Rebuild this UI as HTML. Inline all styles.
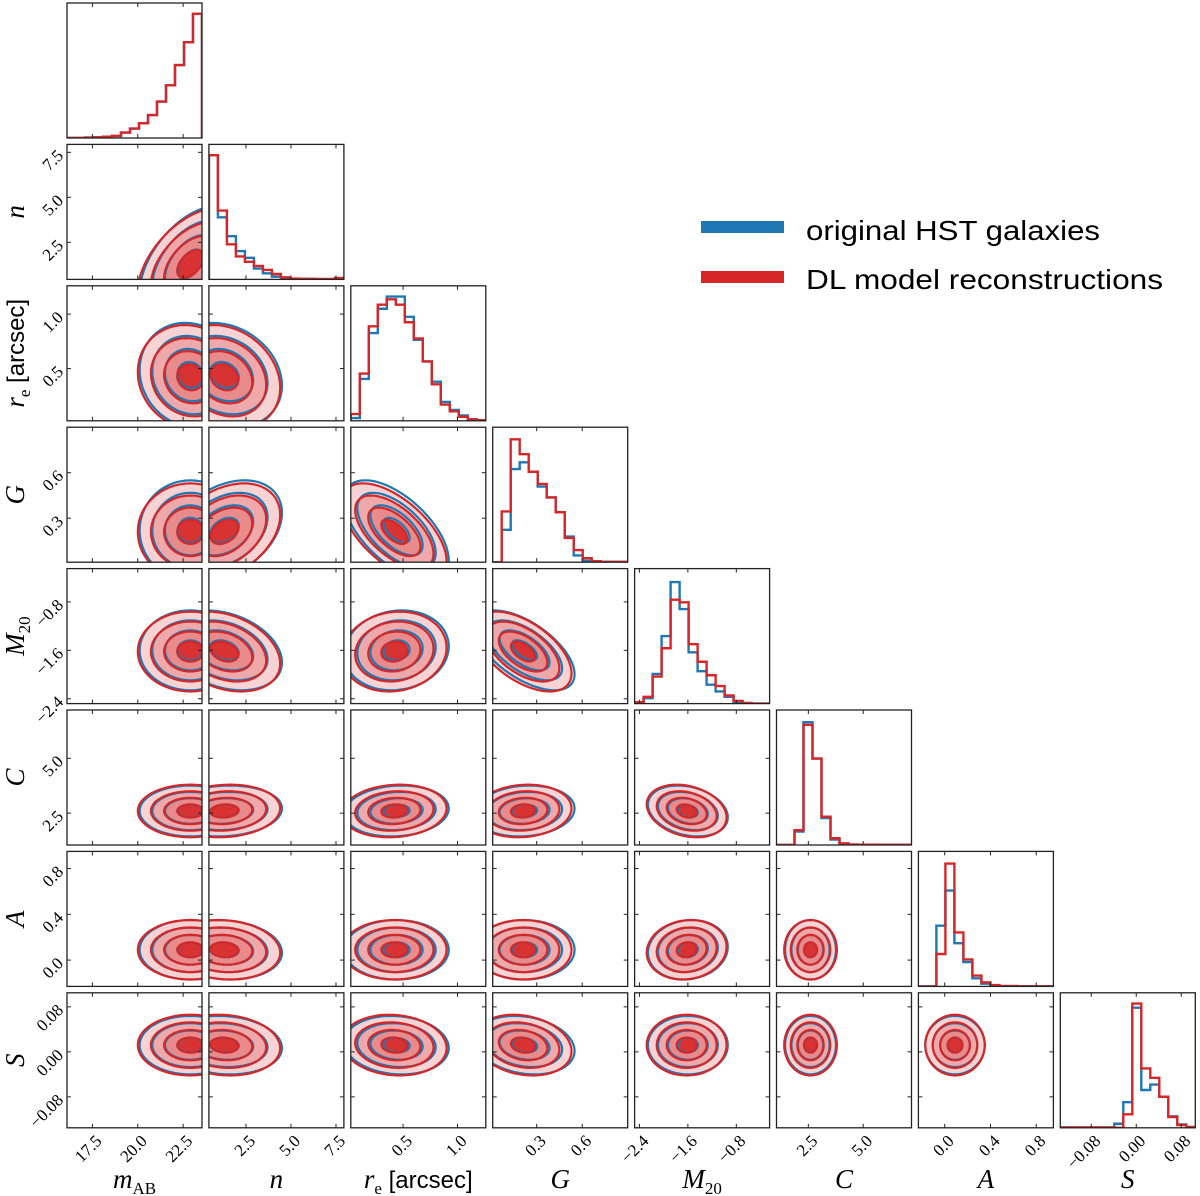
<!DOCTYPE html>
<html><head><meta charset="utf-8"><style>
html,body{margin:0;padding:0;background:#fff;}
svg{display:block;}
.tk{font-family:"Liberation Serif","DejaVu Serif",serif;font-size:17px;fill:#000;}
.al{font-family:"Liberation Serif","DejaVu Serif",serif;font-size:27px;font-style:italic;fill:#000;}
.lg{font-family:"Liberation Sans","DejaVu Sans",sans-serif;font-size:28px;fill:#000;}
</style></head><body>
<svg id="fig" width="1200" height="1196" viewBox="0 0 1200 1196" xmlns="http://www.w3.org/2000/svg"></svg>
<script>
const varNames = ['mAB','n','re','G','M20','C','A','S'];
const axisLo = [16.1, 0.44, 0.02, 0.01, -2.48, 1.05, -0.23, -0.135];
const axisHi = [23.54, 7.94, 1.26, 0.90, -0.25, 7.2, 0.95, 0.105];
const tickVals = [[17.5,20,22.5],[2.5,5,7.5],[0.5,1.0],[0.3,0.6],[-2.4,-1.6,-0.8],[2.5,5.0],[0,0.4,0.8],[-0.08,0,0.08]];
const tickLabels = [['17.5','20.0','22.5'],['2.5','5.0','7.5'],['0.5','1.0'],['0.3','0.6'],['\u22122.4','\u22121.6','\u22120.8'],['2.5','5.0'],['0.0','0.4','0.8'],['\u22120.08','0.00','0.08']];
const histBlue = [
 [0,0,0.003,0.005,0.01,0.015,0.04,0.07,0.11,0.17,0.27,0.39,0.54,0.71,0.92],
 [0.92,0.46,0.32,0.21,0.16,0.08,0.045,0.02,0.01,0.005,0.004,0.003,0.002,0.002,0.01],
 [0.02,0.31,0.65,0.83,0.92,0.92,0.77,0.60,0.44,0.29,0.14,0.08,0.04,0.012,0.004],
 [0,0.24,0.69,0.74,0.67,0.56,0.48,0.37,0.19,0.05,0.01,0.005,0.003,0.002,0.002],
 [0.005,0.04,0.22,0.50,0.90,0.70,0.38,0.24,0.14,0.09,0.05,0.01,0.003,0,0],
 [0,0,0.10,0.91,0.64,0.20,0.04,0.01,0.003,0.002,0.002,0.002,0.001,0.001,0.001],
 [0,0,0.45,0.71,0.32,0.18,0.06,0.02,0.005,0.002,0.002,0.001,0.001,0.001,0.001],
 [0.003,0.003,0.003,0.003,0.003,0.003,0.03,0.19,0.89,0.28,0.32,0.23,0.085,0.025,0.005]
];
const histRed = [
 [0,0,0.003,0.005,0.01,0.015,0.04,0.07,0.11,0.17,0.27,0.39,0.54,0.71,0.92],
 [0.92,0.51,0.26,0.17,0.13,0.10,0.07,0.04,0.015,0.006,0.004,0.003,0.002,0.002,0.01],
 [0.05,0.35,0.70,0.86,0.90,0.86,0.73,0.61,0.44,0.27,0.12,0.07,0.03,0.01,0.004],
 [0,0.376,0.91,0.80,0.67,0.58,0.48,0.37,0.18,0.09,0.03,0.007,0.003,0.003,0.003],
 [0.01,0.05,0.20,0.41,0.77,0.75,0.44,0.31,0.21,0.13,0.06,0.02,0.005,0,0],
 [0,0,0.11,0.89,0.64,0.21,0.05,0.012,0.003,0.002,0.002,0.002,0.001,0.001,0.001],
 [0,0,0.24,0.91,0.40,0.20,0.08,0.03,0.01,0.002,0.002,0.001,0.001,0.001,0.001],
 [0.003,0.003,0.003,0.003,0.003,0.003,0,0.10,0.92,0.44,0.37,0.23,0.08,0.02,0.005]
];
const modeBlue = [22.9, 1.3, 0.44, 0.22, -1.60, 2.6, 0.09, 0.012];
const modeRed  = [22.9, 1.3, 0.42, 0.21, -1.62, 2.6, 0.09, 0.012];
const sigmaBlue = [1.40, 1.60, 0.24, 0.165, 0.33, 0.58, 0.13, 0.026];
const sigmaRed  = [1.45, 1.55, 0.24, 0.160, 0.33, 0.60, 0.13, 0.027];
const corrBlue = [[],[0.5],[-0.1,-0.2],[0.0,0.35,-0.6],[0.0,-0.3,0.1,-0.6],[0.0,0.1,0.1,0.1,-0.25],[0.0,-0.1,0.0,0.0,0.1,0.0],[0.0,-0.1,-0.1,-0.2,0.0,0.0,0.0]];
const corrRed  = [[],[0.5],[-0.1,-0.2],[0.0,0.35,-0.6],[0.0,-0.3,0.1,-0.55],[0.0,0.1,0.1,0.1,-0.25],[0.0,-0.1,0.0,0.0,0.1,0.0],[0.0,-0.1,-0.1,-0.2,0.0,0.0,0.0]];
const levels = [2.0, 1.5, 1.0, 0.5];
const fillColors = ['#f8d3d3','#f0a9aa','#e98a8b','#d93233'];

const NS='http://www.w3.org/2000/svg';
const svg=document.getElementById('fig');
const W=135, N=8;
function panelLeft(j){return 67+141.9*j;}
function panelTop(i){return 3+141.4*i;}
function xs(v,val){return panelLeft(v)+(val-axisLo[v])/(axisHi[v]-axisLo[v])*W;}
function ysc(row,v,val){return panelTop(row)+W-(val-axisLo[v])/(axisHi[v]-axisLo[v])*W;}
function mk(tag,attrs,parent){const e=document.createElementNS(NS,tag);for(const k in attrs)e.setAttribute(k,attrs[k]);(parent||svg).appendChild(e);return e;}
const defs=mk('defs',{});

for(let i=0;i<N;i++){
  for(let j=0;j<=i;j++){
    const L=panelLeft(j),T=panelTop(i);
    const g=mk('g',{});
    
    
    const cp=mk('clipPath',{id:'c'+i+'_'+j},defs);
    mk('rect',{x:L,y:T,width:W,height:W},cp);
    const inner=mk('g',{'clip-path':'url(#c'+i+'_'+j+')'},g);
    if(i===j){
      const nb=histBlue[i].length;
      const draw=(arr,col,nm)=>{
        let d='';
        for(let b=0;b<nb;b++){
          const x0=L+b*W/nb,x1=L+(b+1)*W/nb,y=T+W-arr[b]*W;
          d+=(b===0?'M'+x0+','+(T+W)+' L'+x0+','+y:' L'+x0+','+y)+' L'+x1+','+y;
        }
        d+=' L'+(L+W)+','+(T+W);
        const p=mk('path',{d:d,fill:'none',stroke:col,'stroke-width':2.4,'stroke-linejoin':'miter'},inner);
        
        
      };
      draw(histBlue[i],'#1f77b4','hist-blue-'+varNames[i]);
      draw(histRed[i],'#d62728','hist-red-'+varNames[i]);
    } else {
      const ell=(mode,sig,rho,k)=>{
        let d='';
        const s=Math.sqrt(1-rho*rho);
        for(let t=0;t<=60;t++){
          const a=t/60*2*Math.PI,u=Math.cos(a),v=Math.sin(a);
          const xv=mode[j]+k*sig[j]*u, yv=mode[i]+k*sig[i]*(rho*u+s*v);
          d+=(t===0?'M':'L')+xs(j,xv).toFixed(1)+','+ysc(i,i,yv).toFixed(1)+' ';
        }
        return d+'Z';
      };
      const rr=corrRed[i][j], rb=corrBlue[i][j];
      levels.forEach((k,li)=>{
        const p=mk('path',{d:ell(modeRed,sigmaRed,rr,k),fill:fillColors[li],stroke:'none'},inner);
        
        
      });
      levels.forEach((k,li)=>{
        const p=mk('path',{d:ell(modeBlue,sigmaBlue,rb,k),fill:'none',stroke:'#1f77b4','stroke-width':2.2},inner);
        
        
      });
      levels.forEach((k,li)=>{
        const p=mk('path',{d:ell(modeRed,sigmaRed,rr,k),fill:'none',stroke:'#d62728','stroke-width':2.2},inner);
        
        
      });
    }
    const fr=mk('rect',{x:L,y:T,width:W,height:W,fill:'none',stroke:'#222','stroke-width':1.3},g);
    
    
    tickVals[j].forEach(tv=>{
      const x=xs(j,tv);
      mk('line',{x1:x,y1:T+W,x2:x,y2:T+W-4,stroke:'#222','stroke-width':1},g);
      mk('line',{x1:x,y1:T,x2:x,y2:T+4,stroke:'#222','stroke-width':1},g);
    });
    if(i!==j){
      tickVals[i].forEach(tv=>{
        const y=ysc(i,i,tv);
        mk('line',{x1:L,y1:y,x2:L+4,y2:y,stroke:'#222','stroke-width':1},g);
        mk('line',{x1:L+W,y1:y,x2:L+W-4,y2:y,stroke:'#222','stroke-width':1},g);
      });
    }
  }
}
for(let i=1;i<N;i++){
  tickVals[i].forEach((tv,k)=>{
    const y=ysc(i,i,tv), x=panelLeft(0)-7;
    const t=mk('text',{class:'tk',x:x,y:y+6,'text-anchor':'end',transform:'rotate(-45 '+x+' '+y+')'});
    t.textContent=tickLabels[i][k];
    
    
  });
}
for(let j=0;j<N;j++){
  tickVals[j].forEach((tv,k)=>{
    const x=xs(j,tv)+6, y=panelTop(7)+W+10;
    const t=mk('text',{class:'tk',x:x,y:y+6,'text-anchor':'end',transform:'rotate(-45 '+x+' '+y+')'});
    t.textContent=tickLabels[j][k];
    
    
  });
}
const labHTML=[
 '<tspan>m</tspan><tspan font-style="normal" font-size="17" dy="6">AB</tspan>',
 '<tspan>n</tspan>',
 '<tspan>r</tspan><tspan font-style="normal" font-size="17" dy="6">e</tspan><tspan dy="-6" font-style="normal" font-family="Liberation Sans, sans-serif" font-size="24"> [arcsec]</tspan>',
 '<tspan>G</tspan>',
 '<tspan>M</tspan><tspan font-style="normal" font-size="17" dy="6">20</tspan>',
 '<tspan>C</tspan>',
 '<tspan>A</tspan>',
 '<tspan>S</tspan>'
];
for(let j=0;j<N;j++){
  const t=mk('text',{class:'al',x:panelLeft(j)+W/2,y:1188,'text-anchor':'middle'});
  t.innerHTML=labHTML[j];
  
  
}
for(let i=1;i<N;i++){
  const cy=panelTop(i)+W/2;
  const t=mk('text',{class:'al',x:24,y:cy,'text-anchor':'middle',transform:'rotate(-90 24 '+cy+')'});
  t.innerHTML=labHTML[i];
  
  
}
const lg=mk('g',{});


const lb=mk('rect',{x:701,y:221,width:83,height:12,fill:'#1f77b4'},lg);


const lr=mk('rect',{x:701,y:271,width:83,height:12,fill:'#d62728'},lg);


const t1=mk('text',{class:'lg',x:806,y:240,textLength:294,lengthAdjust:'spacingAndGlyphs'},lg);
t1.textContent='original HST galaxies';


const t2=mk('text',{class:'lg',x:806,y:289,textLength:357,lengthAdjust:'spacingAndGlyphs'},lg);
t2.textContent='DL model reconstructions';


</script>
</body></html>
